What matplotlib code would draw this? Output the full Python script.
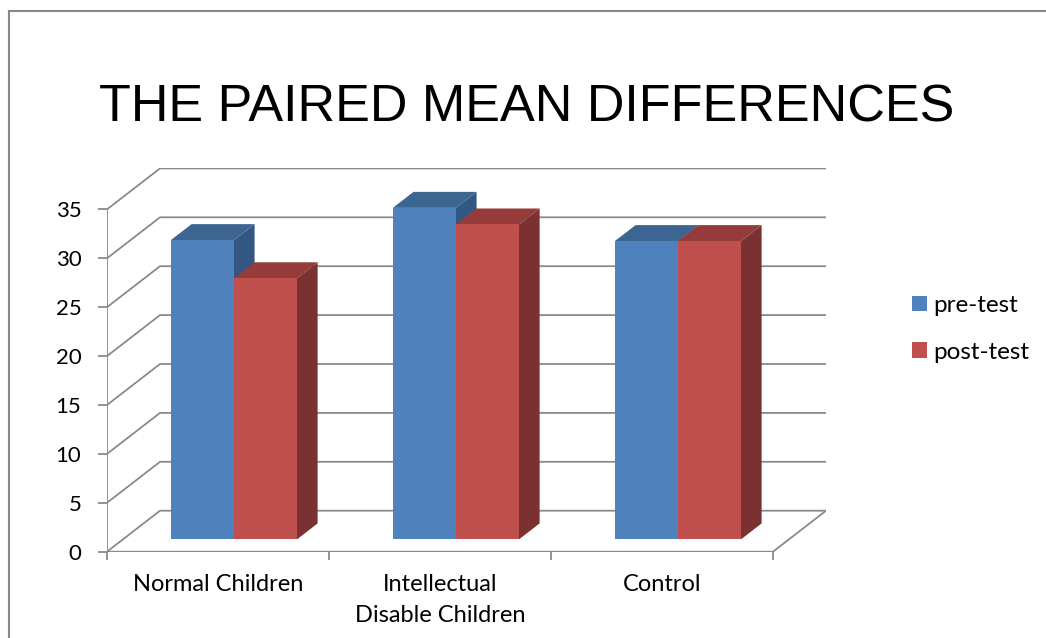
import matplotlib
matplotlib.use('Agg')
import matplotlib.pyplot as plt
from matplotlib.patches import Polygon, Patch
from matplotlib.lines import Line2D

# dados
categorias = ['Normal Children', 'Intellectual\nDisable Children', 'Control']
pre_test = [30.6, 33.9, 30.5]
post_test = [26.7, 32.2, 30.5]
y_ticks = [0, 5, 10, 15, 20, 25, 30, 35]

# cores (face da frente, topo, lado)
azul = ('#4F81BD', '#3D6592', '#335782')
vermelho = ('#C0504D', '#953B39', '#7B3131')
cinza = '#8a8a8a'

fig = plt.figure(figsize=(10.46, 6.38), dpi=100)

# eixo do plano da frente: 222 px por categoria, 9.78 px por unidade
px_cat = 222.0
px_val = 9.78
prof_px = (53.0, 41.0)          # deslocamento da parede do fundo em px
DX = prof_px[0] / px_cat
DY = prof_px[1] / px_val
ymax = 35

larg_ax = (3 + DX) * px_cat
alt_ax = (ymax + DY) * px_val
ax = fig.add_axes([107 / 1046, (638 - 551.7) / 638, larg_ax / 1046, alt_ax / 638])
ax.set_xlim(0, 3 + DX)
ax.set_ylim(0, ymax + DY)
for s in ax.spines.values():
    s.set_visible(False)


def p(x, v, d):
    return (x + d * DX, v + d * DY)


# paredes / grade
for v in y_ticks:
    ax.plot([0, DX, 3 + DX], [v, v + DY, v + DY], color=cinza, lw=1.3, zorder=1,
            solid_capstyle='butt')
ax.plot([0, 0], [0, ymax], color=cinza, lw=1.3, zorder=1)
ax.plot([0, 3, 3 + DX], [0, 0, DY], color=cinza, lw=1.3, zorder=1)

# barras 3D
d1, d2 = 0.30, 0.69
w = 0.284


def barra(x0, x1, v, cores, z):
    frente = [p(x0, 0, d1), p(x1, 0, d1), p(x1, v, d1), p(x0, v, d1)]
    topo = [p(x0, v, d1), p(x1, v, d1), p(x1, v, d2), p(x0, v, d2)]
    lado = [p(x1, 0, d1), p(x1, 0, d2), p(x1, v, d2), p(x1, v, d1)]
    ax.add_patch(Polygon(lado, closed=True, facecolor=cores[2], edgecolor='none', zorder=z))
    ax.add_patch(Polygon(topo, closed=True, facecolor=cores[1], edgecolor='none', zorder=z))
    ax.add_patch(Polygon(frente, closed=True, facecolor=cores[0], edgecolor='none', zorder=z))


z = 2
for i in range(len(categorias)):
    c = i + 0.5
    barra(c - w, c, pre_test[i], azul, z)
    z += 1
    barra(c, c + w, post_test[i], vermelho, z)
    z += 1

# ticks
fonte = 'Lato'
ax.set_yticks(y_ticks)
ax.set_yticklabels([str(t) for t in y_ticks], fontsize=16, fontfamily=fonte)
ax.tick_params(axis='y', length=6.5, width=1.3, color=cinza, pad=12)
ax.set_xticks([0, 1, 2, 3])
ax.set_xticklabels([])
ax.tick_params(axis='x', which='major', length=6, width=1.3, color=cinza)
ax.set_xticks([0.5, 1.5, 2.5], minor=True)
ax.set_xticklabels(categorias, minor=True, fontsize=17, fontfamily=fonte, linespacing=1.6)
ax.tick_params(axis='x', which='minor', length=0, pad=16)
for t in ax.get_xticklabels(minor=True):
    t.set_verticalalignment('top')

# titulo
fig.text(527 / 1046, (638 - 121) / 638, 'THE PAIRED MEAN DIFFERENCES',
         fontsize=37.5, fontfamily='Liberation Sans', ha='center', va='baseline')

# legenda
handles = [Patch(facecolor=azul[0], label='pre-test'),
           Patch(facecolor=vermelho[0], label='post-test')]
ax.legend(handles=handles, loc='upper left', bbox_to_anchor=(912 / 1046, (638 - 295) / 638),
          bbox_transform=fig.transFigure, frameon=False,
          prop={'family': fonte, 'size': 17.5}, handlelength=0.62, handleheight=0.62,
          handletextpad=0.25, labelspacing=1.05, borderpad=0, borderaxespad=0)

# moldura
fig.add_artist(Line2D([8.5 / 1046, 8.5 / 1046], [0, (638 - 10.5) / 638], color='#888888', lw=1.5))
fig.add_artist(Line2D([8.5 / 1046, 1], [(638 - 10.5) / 638, (638 - 10.5) / 638], color='#888888', lw=1.5))

fig.savefig('out.png', dpi=100)
